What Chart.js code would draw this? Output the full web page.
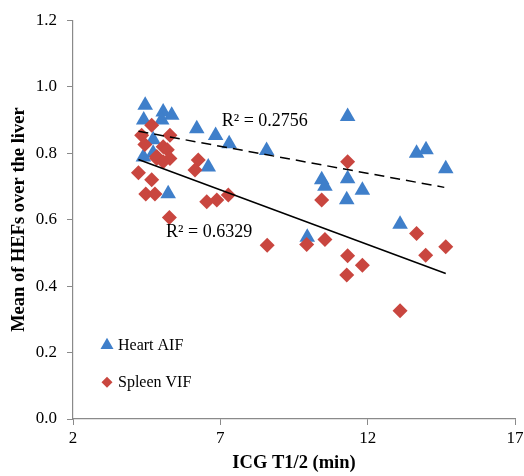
<!DOCTYPE html>
<html>
<head>
<meta charset="utf-8">
<script src="https://cdn.jsdelivr.net/npm/chart.js@4"></script>
<style>
html,body{margin:0;padding:0;background:#fff;}
#wrap{width:524px;height:476px;}
</style>
</head>
<body>
<div id="wrap"><canvas id="c" width="524" height="476"></canvas></div>
<script>
// ICG T1/2 (min) vs mean HEF
const heartX = [4.45,5.06,5.35,4.40,5.01,6.20,6.84,7.30,8.57,4.72,4.72,4.39,6.59,5.23,11.32,13.66,13.98,14.65,10.44,10.55,11.32,11.82,11.29,13.10,9.95];
const heartY = [0.944,0.924,0.914,0.900,0.900,0.873,0.853,0.828,0.808,0.840,0.800,0.788,0.758,0.678,0.910,0.800,0.810,0.753,0.720,0.700,0.723,0.688,0.660,0.586,0.547];
const spleenX = [4.67,4.33,5.29,4.44,5.06,5.20,4.84,4.84,5.29,5.06,6.25,6.14,4.22,4.67,4.47,4.78,6.54,6.88,7.27,5.27,8.59,9.93,11.32,10.44,10.55,11.32,11.82,11.29,13.66,13.97,14.65,13.10];
const spleenY = [0.884,0.854,0.854,0.826,0.819,0.810,0.790,0.784,0.784,0.774,0.779,0.749,0.741,0.720,0.677,0.677,0.654,0.659,0.674,0.606,0.523,0.525,0.774,0.659,0.540,0.491,0.463,0.433,0.558,0.493,0.518,0.326];
const heartTrendX = [4.22,14.6];
const heartTrendY = [0.866,0.697];
const spleenTrendX = [4.22,14.65];
const spleenTrendY = [0.781,0.438];
const heartLabel = 'Heart AIF';
const spleenLabel = 'Spleen VIF';
const r2Heart = 'R\u00B2 = 0.2756';
const r2Spleen = 'R\u00B2 = 0.6329';
const r2HeartPos = [7.05,0.896];
const r2SpleenPos = [5.16,0.562];
const xTicks = [2,7,12,17];
const yTicks = [0,0.2,0.4,0.6,0.8,1.0,1.2];

const BLUE = '#3f7fca';
const RED = '#c9463f';
const SERIF = "'Liberation Serif','Times New Roman',serif";

function pts(xs, ys){ return xs.map((x,i)=>({x:x,y:ys[i]})); }

const annot = {
  id:'annot',
  afterDatasetsDraw(chart){
    const ctx = chart.ctx, xs = chart.scales.x, ys = chart.scales.y;
    ctx.save();
    ctx.fillStyle = '#000';
    ctx.font = '18px ' + SERIF;
    ctx.textBaseline = 'middle';
    ctx.textAlign = 'left';
    ctx.fillText(r2Heart, xs.getPixelForValue(r2HeartPos[0]), ys.getPixelForValue(r2HeartPos[1]));
    ctx.fillText(r2Spleen, xs.getPixelForValue(r2SpleenPos[0]), ys.getPixelForValue(r2SpleenPos[1]));
    // legend
    const lx = chart.chartArea.left + 34;
    const ly1 = chart.chartArea.top + 325;
    const ly2 = chart.chartArea.top + 362;
    ctx.fillStyle = BLUE;
    const r = 7.5;
    ctx.beginPath();
    ctx.moveTo(lx, ly1 - r);
    ctx.lineTo(lx + r*0.866, ly1 + r*0.5);
    ctx.lineTo(lx - r*0.866, ly1 + r*0.5);
    ctx.closePath();
    ctx.fill();
    ctx.fillStyle = RED;
    const d = 5.5;
    ctx.beginPath();
    ctx.moveTo(lx, ly2 - d);
    ctx.lineTo(lx + d, ly2);
    ctx.lineTo(lx, ly2 + d);
    ctx.lineTo(lx - d, ly2);
    ctx.closePath();
    ctx.fill();
    ctx.fillStyle = '#000';
    ctx.font = '16px ' + SERIF;
    ctx.fillText(heartLabel, lx + 11, ly1 + 1);
    ctx.fillText(spleenLabel, lx + 11, ly2 + 1);
    ctx.restore();
  }
};

new Chart(document.getElementById('c'), {
  type:'scatter',
  data:{
    datasets:[
      {label:'heartTrend', data:pts(heartTrendX,heartTrendY), showLine:true, borderColor:'#000', borderWidth:1.5, borderDash:[10,6], pointRadius:0, fill:false},
      {label:'spleenTrend', data:pts(spleenTrendX,spleenTrendY), showLine:true, borderColor:'#000', borderWidth:1.5, pointRadius:0, fill:false},
      {label:spleenLabel, data:pts(spleenX,spleenY), pointStyle:'rectRot', pointRadius:7.5, pointHoverRadius:7.5, backgroundColor:RED, borderColor:RED, borderWidth:0},
      {label:heartLabel, data:pts(heartX,heartY), pointStyle:'triangle', pointRadius:9, pointHoverRadius:9, backgroundColor:BLUE, borderColor:BLUE, borderWidth:0}
    ]
  },
  options:{
    responsive:false,
    animation:false,
    events:[],
    layout:{padding:{top:20,right:9,left:0,bottom:0}},
    plugins:{legend:{display:false},tooltip:{enabled:false}},
    scales:{
      x:{
        type:'linear', min:2, max:17,
        afterBuildTicks(s){ s.ticks = xTicks.map(v=>({value:v})); },
        afterFit(s){ s.height = 57; s.paddingRight = 0; s.paddingLeft = 0; },
        grid:{drawOnChartArea:false, drawTicks:true, tickLength:6, color:'#8a8a8a'},
        border:{display:true, color:'#8a8a8a', width:1.2},
        ticks:{color:'#000', font:{family:SERIF, size:17}, padding:3, maxRotation:0, autoSkip:false},
        title:{display:true, text:'ICG T1/2 (min)', color:'#000', font:{family:SERIF, size:18.5, weight:'bold'}, padding:{top:0,bottom:2}}
      },
      y:{
        type:'linear', min:0, max:1.2,
        afterBuildTicks(s){ s.ticks = yTicks.map(v=>({value:v})); },
        afterFit(s){ s.width = 73; },
        grid:{drawOnChartArea:false, drawTicks:true, tickLength:6, color:'#8a8a8a'},
        border:{display:true, color:'#8a8a8a', width:1.2},
        ticks:{color:'#000', font:{family:SERIF, size:17}, padding:10, callback:v=>Number(v).toFixed(1)},
        title:{display:true, text:'Mean of HEFs over the liver', color:'#000', font:{family:SERIF, size:18.5, weight:'bold'}, padding:{top:8,bottom:0}}
      }
    }
  },
  plugins:[annot]
});
</script>
</body>
</html>
